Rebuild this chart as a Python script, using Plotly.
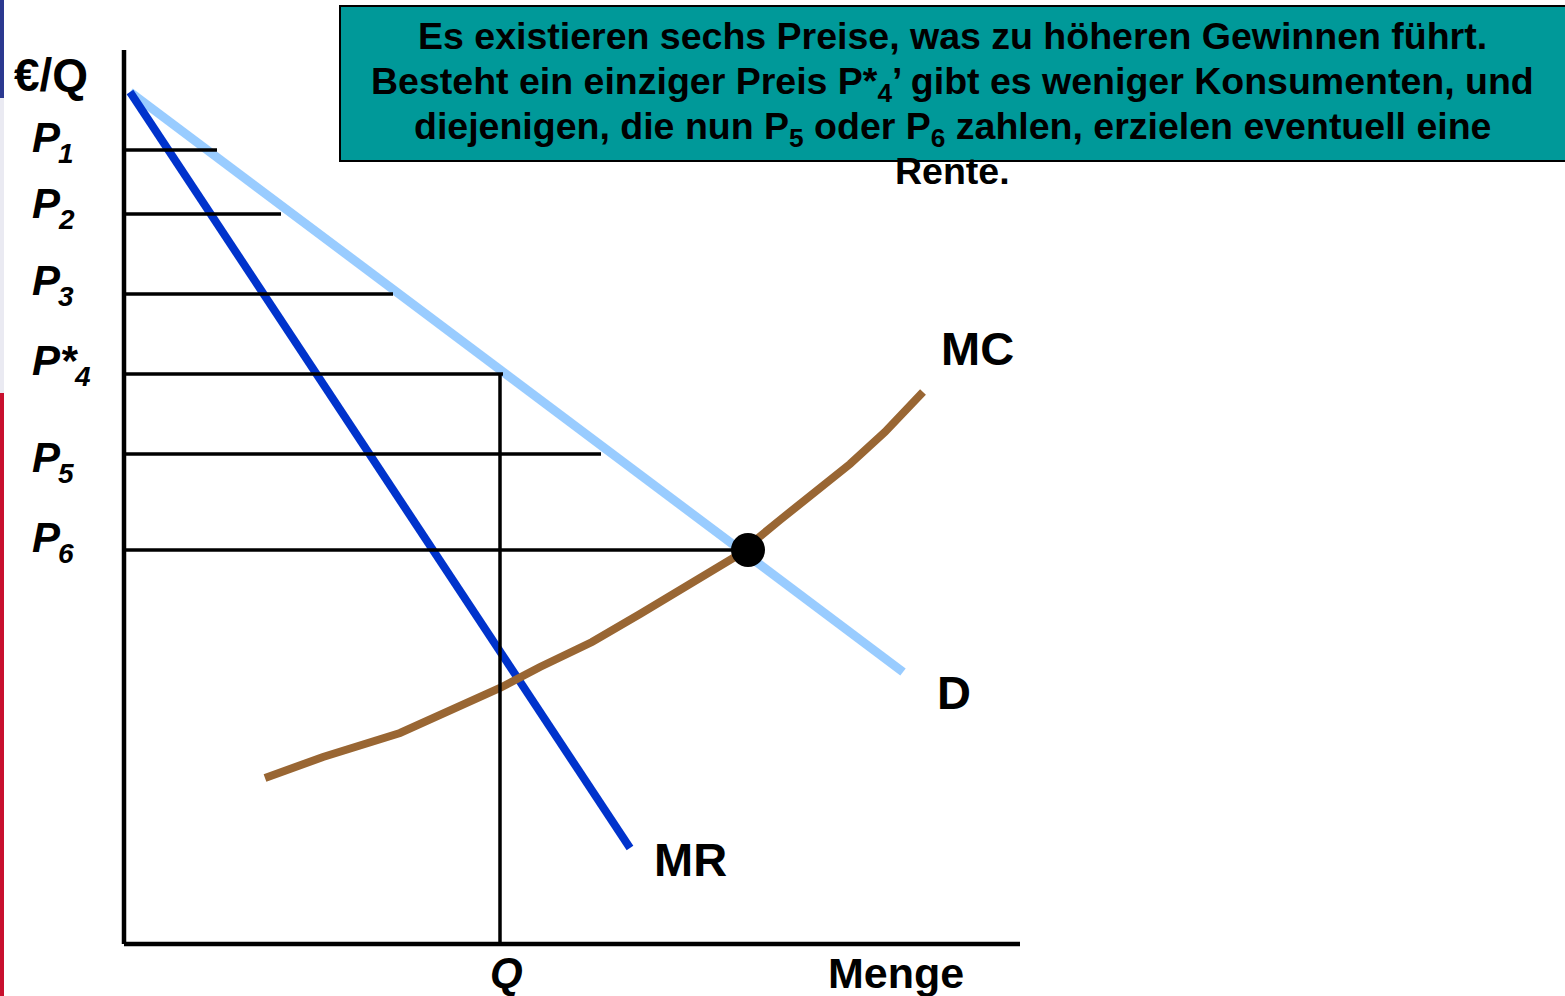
import plotly.graph_objects as go

# ---- diagram values (quantity on x, price on y) ----
demand_q = [0.06, 7.79]
demand_p = [8.52, 2.72]

mr_q = [0.06, 5.06]
mr_p = [8.52, 0.96]

mc_q = [1.41, 1.61, 1.99, 2.76, 3.36, 3.76, 4.16, 4.68, 5.16, 5.66, 6.11, 6.56, 7.26, 7.61, 7.81, 7.99]
mc_p = [1.66, 1.73, 1.87, 2.11, 2.37, 2.56, 2.77, 3.02, 3.30, 3.59, 3.87, 4.24, 4.80, 5.12, 5.34, 5.52]

price_levels = [7.94, 7.30, 6.50, 5.70, 4.90, 3.94]
price_reach_q = [0.93, 1.57, 2.69, 3.79, 4.77, 6.23]
price_names = ["P", "P", "P", "P*", "P", "P"]
price_index = ["1", "2", "3", "4", "5", "6"]

q_star = 3.76
p_star = 5.70

eq_q = 6.24
eq_p = 3.94

axis_q_max = 8.96
axis_p_max = 8.94

box_lines = [
    "Es existieren sechs Preise, was zu höheren Gewinnen führt.",
    "Besteht ein einziger Preis P*<sub>4</sub>’ gibt es weniger Konsumenten, und",
    "diejenigen, die nun P<sub>5</sub> oder P<sub>6</sub> zahlen, erzielen eventuell eine",
    "Rente.",
]

W, H = 1565, 996
FONT = "Liberation Sans, Arial, sans-serif"

# label placement (pixels): how far each P label's baseline sits below its price line
label_drop = [0, 2, -1, -1, 16, 0]
label_left = -0.94
index_x = {"P": -0.58, "P*": -0.42}

fig = go.Figure()


def seg(xs, ys, color, width):
    fig.add_trace(go.Scatter(x=xs, y=ys, mode="lines",
                             line=dict(color=color, width=width),
                             hoverinfo="skip", showlegend=False))


# demand, marginal revenue, marginal cost
seg(demand_q, demand_p, "#99CCFF", 9)
seg(mr_q, mr_p, "#0033CC", 8)
seg(mc_q, mc_p, "#996633", 8)

# price steps
for p, q in zip(price_levels, price_reach_q):
    seg([0, q], [p, p], "#000000", 3.5)

# quantity at the single price
seg([q_star, q_star], [0, p_star], "#000000", 3.5)

# axes
seg([0, 0], [0, axis_p_max], "#000000", 4.5)
seg([0, axis_q_max], [0, 0], "#000000", 4.5)

# intersection point
fig.add_trace(go.Scatter(x=[eq_q], y=[eq_p], mode="markers",
                         marker=dict(color="#000000", size=34),
                         hoverinfo="skip", showlegend=False))

ann = []
for p, name, idx, drop in zip(price_levels, price_names, price_index, label_drop):
    ann.append(dict(x=label_left, y=p, xref="x", yref="y", text="<b><i>" + name + "</i></b>",
                    showarrow=False, xanchor="left", yanchor="middle", yshift=13 - drop,
                    font=dict(family=FONT, size=42, color="#000000")))
    ann.append(dict(x=index_x[name], y=p, xref="x", yref="y", text="<b><i>" + idx + "</i></b>",
                    showarrow=False, xanchor="center", yanchor="middle", yshift=-(drop + 3),
                    font=dict(family=FONT, size=28, color="#000000")))

labels = [
    ("€/Q", -0.73, 8.69, False, 46),
    ("MC", 8.53, 5.96, False, 47),
    ("D", 8.30, 2.52, False, 47),
    ("MR", 5.66, 0.85, False, 47),
    ("Q", q_star + 0.06, -0.29, True, 42),
    ("Menge", 7.72, -0.29, False, 43),
]
for txt, x, y, ital, size in labels:
    t = "<b><i>" + txt + "</i></b>" if ital else "<b>" + txt + "</b>"
    ann.append(dict(x=x, y=y, xref="x", yref="y", text=t, showarrow=False,
                    xanchor="center", yanchor="middle",
                    font=dict(family=FONT, size=size, color="#000000")))

for i, line in enumerate(box_lines):
    ann.append(dict(x=952 / W, y=1 - (13 + 45 * i) / H, xref="paper", yref="paper",
                    text="<b>" + line + "</b>", showarrow=False,
                    xanchor="center", yanchor="top", align="center",
                    font=dict(family=FONT, size=37.5, color="#000000")))

shapes = [
    # text panel
    dict(type="rect", xref="paper", yref="paper", x0=340 / W, x1=1.01,
         y0=1 - 161 / H, y1=1 - 6 / H, fillcolor="#009999",
         line=dict(color="#000000", width=2), layer="below"),
    # slide edge strip
    dict(type="rect", xref="paper", yref="paper", x0=0, x1=4 / W, y0=1 - 98 / H, y1=1,
         fillcolor="#2B3990", line=dict(width=0), layer="below"),
    dict(type="rect", xref="paper", yref="paper", x0=0, x1=4 / W, y0=1 - 393 / H, y1=1 - 98 / H,
         fillcolor="#EAEAF2", line=dict(width=0), layer="below"),
    dict(type="rect", xref="paper", yref="paper", x0=0, x1=4 / W, y0=0, y1=1 - 393 / H,
         fillcolor="#C8102E", line=dict(width=0), layer="below"),
]

fig.update_layout(
    width=W, height=H,
    margin=dict(l=0, r=0, t=0, b=0),
    paper_bgcolor="#FFFFFF", plot_bgcolor="#FFFFFF",
    xaxis=dict(range=[-1.24, 14.41], visible=False, fixedrange=True),
    yaxis=dict(range=[-0.52, 9.44], visible=False, fixedrange=True),
    annotations=ann, shapes=shapes, showlegend=False,
)

fig.write_html("out.html", config={"displayModeBar": False})
